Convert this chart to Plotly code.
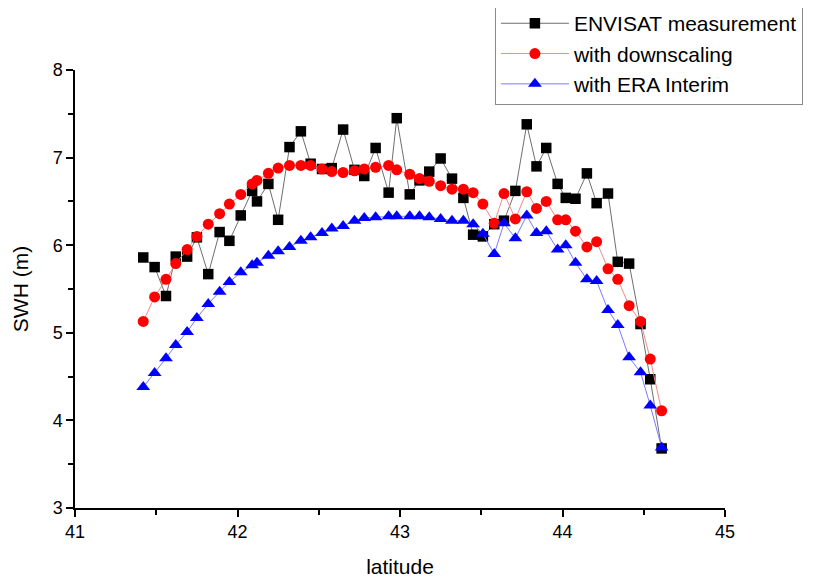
import plotly.graph_objects as go

latitude = [41.42, 41.49, 41.56, 41.62, 41.69, 41.75, 41.82, 41.89, 41.95, 42.02,
            42.09, 42.12, 42.19, 42.25, 42.32, 42.39, 42.45, 42.52, 42.58, 42.65,
            42.72, 42.78, 42.85, 42.93, 42.98, 43.06, 43.12, 43.18, 43.25, 43.32,
            43.39, 43.45, 43.51, 43.58, 43.64, 43.71, 43.78, 43.84, 43.90, 43.97,
            44.02, 44.08, 44.15, 44.21, 44.28, 44.34, 44.41, 44.48, 44.54, 44.61]

envisat = [5.86, 5.75, 5.42, 5.87, 5.87, 6.09, 5.67, 6.15, 6.05, 6.34,
           6.62, 6.50, 6.70, 6.29, 7.12, 7.30, 6.93, 6.87, 6.88, 7.32,
           6.86, 6.79, 7.11, 6.60, 7.45, 6.58, 6.74, 6.84, 6.99, 6.76,
           6.54, 6.12, 6.10, 6.24, 6.28, 6.62, 7.38, 6.90, 7.11, 6.70,
           6.54, 6.53, 6.82, 6.48, 6.59, 5.81, 5.79, 5.10, 4.47, 3.68]

downscaling = [5.13, 5.41, 5.61, 5.79, 5.95, 6.10, 6.24, 6.36, 6.47, 6.58,
               6.70, 6.74, 6.82, 6.88, 6.91, 6.91, 6.91, 6.87, 6.84, 6.83,
               6.85, 6.87, 6.89, 6.91, 6.86, 6.81, 6.76, 6.73, 6.68, 6.64,
               6.64, 6.60, 6.47, 6.25, 6.59, 6.30, 6.61, 6.42, 6.50, 6.29,
               6.29, 6.16, 5.98, 6.04, 5.73, 5.61, 5.31, 5.13, 4.70, 4.11]

era_interim = [4.38, 4.54, 4.71, 4.86, 5.01, 5.17, 5.33, 5.47, 5.58, 5.69,
               5.77, 5.80, 5.88, 5.93, 5.98, 6.05, 6.09, 6.14, 6.19, 6.22,
               6.28, 6.31, 6.32, 6.33, 6.33, 6.33, 6.33, 6.32, 6.30, 6.28,
               6.28, 6.24, 6.13, 5.90, 6.25, 6.08, 6.34, 6.14, 6.16, 5.95,
               6.00, 5.80, 5.61, 5.59, 5.26, 5.09, 4.72, 4.55, 4.17, 3.69]

x_ticks = [41, 42, 43, 44, 45]
y_ticks = [3, 4, 5, 6, 7, 8]

FONT = "Liberation Sans, Arial, sans-serif"

fig = go.Figure()
fig.add_trace(go.Scatter(
    x=latitude, y=envisat, mode="lines+markers", name="ENVISAT measurement",
    line=dict(color="#6e6e6e", width=1),
    marker=dict(symbol="square", size=10.5, color="black")))
fig.add_trace(go.Scatter(
    x=latitude, y=downscaling, mode="lines+markers", name="with downscaling",
    line=dict(color="#f08a8a", width=1),
    marker=dict(symbol="circle", size=11, color="red")))
fig.add_trace(go.Scatter(
    x=latitude, y=era_interim, mode="lines+markers", name="with ERA Interim",
    line=dict(color="#7a7aff", width=1),
    marker=dict(symbol="triangle-up", size=12, color="blue")))

axis_common = dict(
    showline=True, linecolor="black", linewidth=1.5, mirror=False,
    ticks="outside", ticklen=7, tickwidth=1.5, tickcolor="black",
    showgrid=False, zeroline=False,
    tickfont=dict(family=FONT, size=18, color="black"),
    minor=dict(ticks="outside", ticklen=5, tickwidth=1.5, tickcolor="black", showgrid=False),
)

fig.update_xaxes(
    range=[41, 45], tickvals=x_ticks, ticktext=[str(v) for v in x_ticks],
    title=dict(text="latitude", font=dict(family=FONT, size=21, color="black"), standoff=18),
    **axis_common)
fig.update_xaxes(minor_dtick=0.5, minor_tick0=41)
fig.update_yaxes(
    range=[3, 8], tickvals=y_ticks, ticktext=[str(v) for v in y_ticks],
    title=dict(text="SWH (m)", font=dict(family=FONT, size=21, color="black"), standoff=18),
    **axis_common)
fig.update_yaxes(minor_dtick=0.5, minor_tick0=3)

# the page body adds an 8px offset, so margins are reduced accordingly
fig.update_layout(
    width=840, height=579,
    margin=dict(l=67, r=123, t=62, b=79, autoexpand=False),
    paper_bgcolor="white", plot_bgcolor="white",
    font=dict(family=FONT, color="black"),
    legend=dict(
        x=0.646, y=1.155, xanchor="left", yanchor="top",
        bgcolor="white", bordercolor="#888888", borderwidth=1,
        font=dict(family=FONT, size=21, color="black"),
        itemwidth=68, tracegroupgap=0,
    ),
)

fig.write_html("out.html")
